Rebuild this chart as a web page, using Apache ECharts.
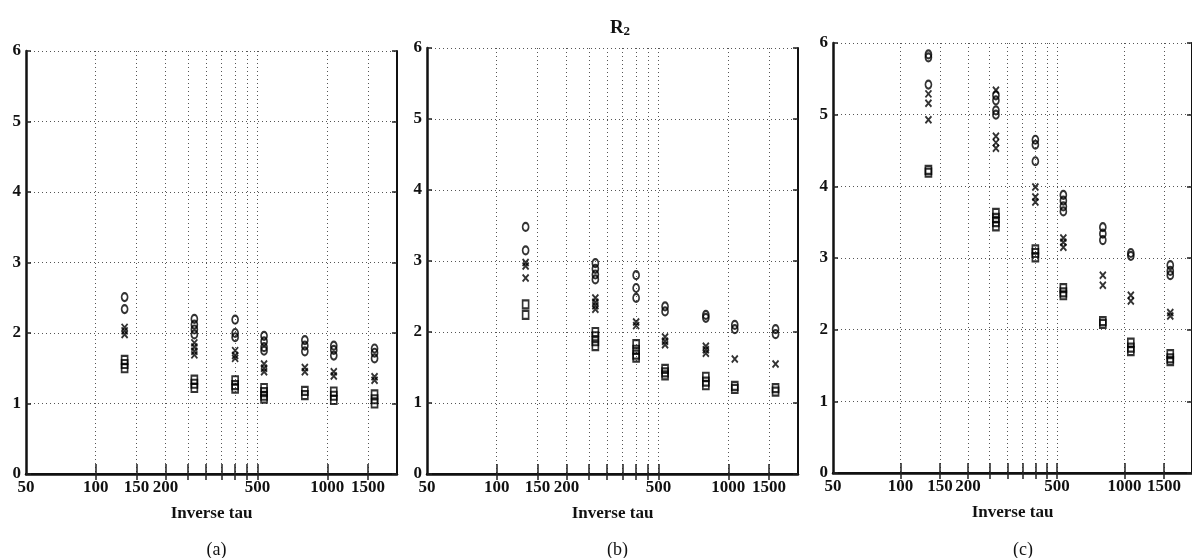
<!DOCTYPE html>
<html><head><meta charset="utf-8">
<script src="https://cdn.jsdelivr.net/npm/echarts@6/dist/echarts.min.js"></script>
<style>html,body{margin:0;padding:0;background:#fff}#c{width:1192px;height:558px}</style>
</head><body><div id="c"></div>
<script>
// ---- data ----
const xValues = [133.3, 266.7, 400, 533.3, 800, 1066.7, 1600];
const xLabelValues = [50, 100, 150, 200, 500, 1000, 1500];
const xTickValues = [100, 150, 200, 250, 300, 350, 400, 450, 500, 1000, 1500];
const panelLabels = ['(a)', '(b)', '(c)'];
const xAxisTitle = 'Inverse tau';
const chartTitle = 'R';
const chartTitleSub = '2';

const aCircle = [[2.51, 2.34], [2.20, 2.12, 2.05, 1.98], [2.19, 2.00, 1.94], [1.96, 1.88, 1.80, 1.75], [1.90, 1.82, 1.74], [1.82, 1.76, 1.68], [1.78, 1.72, 1.64]];
const aCross = [[2.08, 2.03, 1.98], [1.86, 1.80, 1.74, 1.69], [1.75, 1.68, 1.64], [1.56, 1.50, 1.45], [1.51, 1.45], [1.45, 1.39], [1.38, 1.33]];
const aSquare = [[1.62, 1.56, 1.50], [1.34, 1.28, 1.22], [1.33, 1.26, 1.21], [1.22, 1.16, 1.11, 1.07], [1.18, 1.12], [1.17, 1.11, 1.05], [1.13, 1.06, 1.00]];

const bCircle = [[3.48, 3.15], [2.97, 2.89, 2.81, 2.74], [2.80, 2.62, 2.48], [2.36, 2.29], [2.24, 2.20], [2.10, 2.04], [2.04, 1.97]];
const bCross = [[2.98, 2.93, 2.76], [2.48, 2.42, 2.37, 2.32], [2.14, 2.09], [1.93, 1.87, 1.82], [1.80, 1.75, 1.70], [1.62], [1.55]];
const bSquare = [[2.39, 2.24], [2.00, 1.94, 1.87, 1.80], [1.83, 1.75, 1.68, 1.64], [1.48, 1.43, 1.39], [1.37, 1.30, 1.25], [1.24, 1.20], [1.21, 1.16]];

const cCircle = [[5.84, 5.80, 5.42], [5.27, 5.20, 5.06, 5.00], [4.65, 4.58, 4.35], [3.88, 3.80, 3.72, 3.65], [3.43, 3.34, 3.25], [3.07, 3.03], [2.90, 2.82, 2.76]];
const cCross = [[5.29, 5.16, 4.93], [5.34, 4.70, 4.61, 4.53], [3.99, 3.85, 3.78], [3.28, 3.22, 3.15], [2.76, 2.62], [2.48, 2.40], [2.24, 2.19]];
const cSquare = [[4.23, 4.19], [3.63, 3.56, 3.50, 3.44], [3.12, 3.07, 3.01], [2.58, 2.52, 2.48], [2.12, 2.08], [1.82, 1.75, 1.70], [1.66, 1.60, 1.56]];

// ---- build ----
const SERIF = '"Liberation Serif", "DejaVu Serif", serif';
const panels = [
  {label: panelLabels[0], circle: aCircle, cross: aCross, square: aSquare, grid: {left: 26, top: 51, width: 371, height: 423}},
  {label: panelLabels[1], circle: bCircle, cross: bCross, square: bSquare, grid: {left: 427, top: 48, width: 371, height: 426}},
  {label: panelLabels[2], circle: cCircle, cross: cCross, square: cSquare, grid: {left: 833, top: 43, width: 370, height: 430}}
];

function toPoints(groups) {
  const out = [];
  groups.forEach((g, i) => g.forEach(v => out.push([xValues[i], v])));
  return out;
}

const grids = [], xAxes = [], yAxes = [], series = [], titles = [];
const CROSS = 'path://M0,0L10,12M10,0L0,12';
const markerStyle = {color: 'rgba(255,255,255,0)', borderColor: '#000', borderWidth: 1.9};

panels.forEach((p, i) => {
  grids.push(Object.assign({show: false, containLabel: false}, p.grid));
  const baseX = {
    type: 'log', logBase: 10, min: 50, max: 2000, gridIndex: i
  };
  xAxes.push(Object.assign({}, baseX, {
    position: 'bottom',
    name: xAxisTitle, nameLocation: 'middle', nameGap: 31,
    nameTextStyle: {fontFamily: SERIF, fontSize: 17, fontWeight: 'bold', color: '#111'},
    axisLine: {show: true, lineStyle: {color: '#111', width: 2.5}},
    axisTick: {show: true, inside: true, length: 10, customValues: xTickValues, lineStyle: {color: '#222', width: 1.5}},
    minorTick: {show: false},
    axisLabel: {show: true, customValues: xLabelValues, margin: 5, fontFamily: SERIF, fontSize: 17, fontWeight: 'bold', color: '#111', showMinLabel: true, showMaxLabel: true, hideOverlap: false,
      formatter: v => String(Math.round(v))},
    splitLine: {show: true, lineStyle: {type: [1, 3], color: '#555', width: 1}}
  }));
  xAxes.push(Object.assign({}, baseX, {
    position: 'top',
    axisLine: {show: true, lineStyle: {color: '#111', width: 2}},
    axisTick: {show: true, inside: true, length: 6, customValues: xTickValues, lineStyle: {color: '#222', width: 1.5}},
    axisLabel: {show: false},
    splitLine: {show: false}
  }));
  const baseY = {type: 'value', min: 0, max: 6, interval: 1, gridIndex: i};
  yAxes.push(Object.assign({}, baseY, {
    position: 'left',
    axisLine: {show: true, lineStyle: {color: '#111', width: 2.5}},
    axisTick: {show: true, inside: true, length: 5, lineStyle: {color: '#222', width: 1.5}},
    axisLabel: {show: true, margin: 5, fontFamily: SERIF, fontSize: 17, fontWeight: 'bold', color: '#111'},
    splitLine: {show: true, lineStyle: {type: [1, 3], color: '#555', width: 1}}
  }));
  yAxes.push(Object.assign({}, baseY, {
    position: 'right',
    axisLine: {show: true, lineStyle: {color: '#111', width: 2}},
    axisTick: {show: true, inside: true, length: 5, lineStyle: {color: '#222', width: 1.5}},
    axisLabel: {show: false},
    splitLine: {show: false}
  }));
  const common = {type: 'scatter', xAxisIndex: 2 * i, yAxisIndex: 2 * i, itemStyle: markerStyle, emphasis: {disabled: true}, silent: true, z: 5};
  series.push(Object.assign({}, common, {symbol: 'circle', symbolSize: [6, 8], data: toPoints(p.circle)}));
  series.push(Object.assign({}, common, {symbol: CROSS, symbolSize: [6, 7], data: toPoints(p.cross)}));
  series.push(Object.assign({}, common, {symbol: 'rect', symbolSize: [6, 8], data: toPoints(p.square)}));
  titles.push({
    text: p.label,
    left: p.grid.left + p.grid.width / 2, top: 536, textAlign: 'center',
    textStyle: {fontFamily: SERIF, fontSize: 18, fontWeight: 'normal', color: '#111'}
  });
});

titles.push({
  text: '{r|' + chartTitle + '}{s|' + chartTitleSub + '}',
  left: 615, top: 11, textAlign: 'center',
  textStyle: {rich: {
    r: {fontFamily: SERIF, fontSize: 19, fontWeight: 'bold', color: '#111', verticalAlign: 'bottom'},
    s: {fontFamily: SERIF, fontSize: 13, fontWeight: 'bold', color: '#111', padding: [9, 0, 0, 0]}
  }}
});

const chart = echarts.init(document.getElementById('c'), null, {renderer: 'canvas'});
chart.setOption({
  animation: false,
  backgroundColor: '#fff',
  title: titles,
  grid: grids,
  xAxis: xAxes,
  yAxis: yAxes,
  series: series
});
</script>
</body></html>
